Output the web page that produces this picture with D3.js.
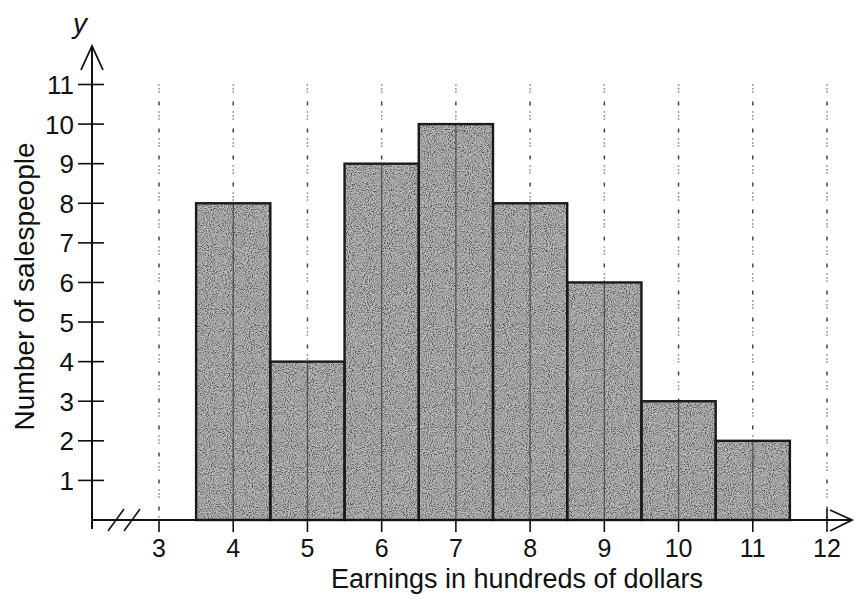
<!DOCTYPE html>
<html><head><meta charset="utf-8">
<script src="https://cdn.jsdelivr.net/npm/d3@7"></script>
<style>html,body{margin:0;padding:0;background:#fff;}svg{display:block;font-family:"Liberation Sans",Arial,sans-serif;}</style>
</head><body>
<svg id="c" width="858" height="599"></svg>
<script>
const binStarts = [3.5,4.5,5.5,6.5,7.5,8.5,9.5,10.5];
const counts = [8,4,9,10,8,6,3,2];
const xTicks = [3,4,5,6,7,8,9,10,11,12];
const yTicks = [1,2,3,4,5,6,7,8,9,10,11];
const xTitle = "Earnings in hundreds of dollars";
const yTitle = "Number of salespeople";

const svg = d3.select("#c");
const x = d3.scaleLinear().domain([3,12]).range([159,827]);
const y = d3.scaleLinear().domain([0,11]).range([520,84.5]);
const x0 = 92;

const defs = svg.append("defs");
const f = defs.append("filter").attr("id","grain").attr("x",0).attr("y",0).attr("width",1).attr("height",1);
f.append("feTurbulence").attr("type","fractalNoise").attr("baseFrequency","0.95").attr("numOctaves",2).attr("seed",3).attr("result","n");
f.append("feColorMatrix").attr("in","n").attr("type","matrix")
 .attr("values","0 0 0 0 0.08  0 0 0 0 0.08  0 0 0 0 0.08  2.6 0 0 0 -0.95").attr("result","dots");
f.append("feComposite").attr("in","dots").attr("in2","SourceGraphic").attr("operator","in").attr("result","d2");
const m = f.append("feMerge");
m.append("feMergeNode").attr("in","SourceGraphic");
m.append("feMergeNode").attr("in","d2");

// dotted gridlines
svg.append("g").selectAll("line").data(xTicks).join("line")
  .attr("x1",d=>x(d)).attr("x2",d=>x(d)).attr("y1",y(11)).attr("y2",y(0))
  .attr("stroke","#444").attr("stroke-width",1.5).attr("stroke-dasharray","1 3 1 2 1 9 4 6");

// bars
const bars = svg.append("g");
bars.selectAll("rect.fill").data(counts).join("rect").attr("class","fill")
  .attr("x",(d,i)=>x(binStarts[i])).attr("width",(d,i)=>x(binStarts[i]+1)-x(binStarts[i]))
  .attr("y",d=>y(d)).attr("height",d=>y(0)-y(d))
  .attr("fill","#bcbcbc").attr("filter","url(#grain)");
// inner grid lines through bars
bars.selectAll("line.v").data(xTicks.filter(t=>t>=4&&t<=11)).join("line").attr("class","v")
  .attr("x1",d=>x(d)).attr("x2",d=>x(d)).attr("y1",d=>y(counts[d-4])).attr("y2",y(0))
  .attr("stroke","#222").attr("stroke-width",1.3).attr("opacity",0.6);
bars.selectAll("rect.edge").data(counts).join("rect").attr("class","edge")
  .attr("x",(d,i)=>x(binStarts[i])).attr("width",(d,i)=>x(binStarts[i]+1)-x(binStarts[i]))
  .attr("y",d=>y(d)).attr("height",d=>y(0)-y(d))
  .attr("fill","none").attr("stroke","#1a1a1a").attr("stroke-width",2.4);

// y axis
const ax = svg.append("g").attr("stroke","#111").attr("fill","none");
ax.append("line").attr("x1",x0).attr("x2",x0).attr("y1",y(0)+9).attr("y2",46).attr("stroke-width",2);
ax.append("path").attr("d",`M${x0-11},70 L${x0},46 L${x0+11},70`).attr("stroke-width",1.8);
ax.selectAll("line.yt").data(yTicks).join("line").attr("class","yt")
  .attr("x1",x0-14).attr("x2",x0+12).attr("y1",d=>y(d)).attr("y2",d=>y(d)).attr("stroke-width",1.6);
svg.append("g").selectAll("text").data(yTicks).join("text")
  .attr("x",x0-18).attr("y",d=>y(d)+9.5).attr("text-anchor","end")
  .attr("font-size",26).attr("fill","#111").text(d=>d);
svg.append("text").attr("x",x0-12).attr("y",33).attr("text-anchor","middle")
  .attr("font-size",28).attr("font-style","italic").attr("fill","#111").text("y");
svg.append("text").attr("transform",`translate(34,${y(5.9)}) rotate(-90)`).attr("text-anchor","middle")
  .attr("font-size",28).attr("fill","#111").text(yTitle);

// x axis
ax.append("line").attr("x1",x0).attr("x2",852).attr("y1",y(0)).attr("y2",y(0)).attr("stroke-width",2);
ax.append("path").attr("d",`M830,${y(0)-10} L852,${y(0)} L830,${y(0)+11}`).attr("stroke-width",1.8);
ax.selectAll("line.xt").data(xTicks).join("line").attr("class","xt")
  .attr("x1",d=>x(d)).attr("x2",d=>x(d)).attr("y1",d=>d===12?y(0)-11:y(0)).attr("y2",y(0)+12).attr("stroke-width",1.6);
// break marks
ax.append("path").attr("d",`M108,${y(0)+11} L124,${y(0)-11} M124,${y(0)+11} L140,${y(0)-11}`).attr("stroke-width",1.6);
svg.append("g").selectAll("text").data(xTicks).join("text")
  .attr("x",d=>x(d)).attr("y",557).attr("text-anchor","middle")
  .attr("font-size",25).attr("fill","#111").text(d=>d);
svg.append("text").attr("x",517).attr("y",588).attr("text-anchor","middle")
  .attr("font-size",27).attr("fill","#111").text(xTitle);
</script>
</body></html>
